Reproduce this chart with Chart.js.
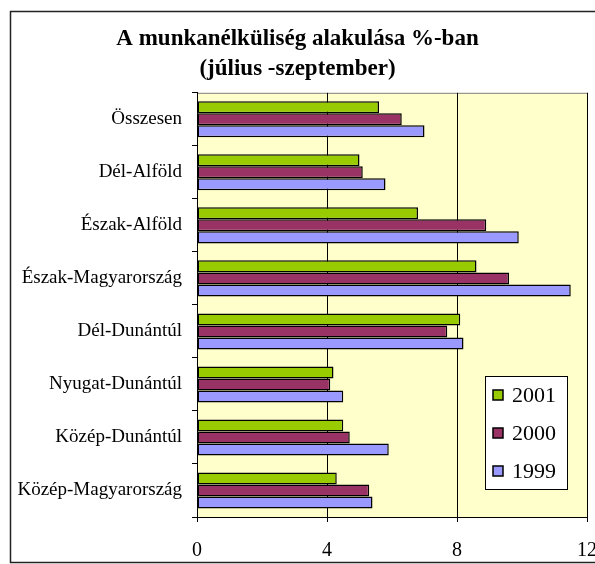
<!DOCTYPE html>
<html>
<head>
<meta charset="utf-8">
<script src="https://cdn.jsdelivr.net/npm/chart.js@4/dist/chart.umd.min.js"></script>
<style>
  html, body { margin: 0; padding: 0; background: #fff; overflow: hidden; }
  #wrap { width: 595px; height: 564px; overflow: hidden; }
</style>
</head>
<body>
<div id="wrap"><canvas id="c" width="620" height="564"></canvas></div>
<script>
// Munkanélküliség régiónként, július-szeptember, %
const regions = ['Összesen', 'Dél-Alföld', 'Észak-Alföld', 'Észak-Magyarország',
  'Dél-Dunántúl', 'Nyugat-Dunántúl', 'Közép-Dunántúl', 'Közép-Magyarország'];
const years = ['2001', '2000', '1999'];
const v2001 = [5.6, 5.0, 6.8, 8.6, 8.1, 4.2, 4.5, 4.3];
const v2000 = [6.3, 5.1, 8.9, 9.6, 7.7, 4.1, 4.7, 5.3];
const v1999 = [7.0, 5.8, 9.9, 11.5, 8.2, 4.5, 5.9, 5.4];
const xTicks = [0, 4, 8, 12];

const colors = ['#99CC00', '#993366', '#9999FF'];
const FONT = 'Liberation Serif, "Times New Roman", serif';

// háttér, keret, saját jelmagyarázat
const deco = {
  id: 'deco',
  beforeDraw(chart) {
    const { ctx, chartArea: a } = chart;
    ctx.save();
    ctx.fillStyle = '#FFFFCC';
    ctx.fillRect(a.left, a.top, a.right - a.left, a.bottom - a.top);
    ctx.strokeStyle = '#808080';
    ctx.lineWidth = 1;
    ctx.strokeRect(a.left + 0.5, a.top + 0.5, a.right - a.left, a.bottom - a.top);
    ctx.restore();
  },
  afterDraw(chart) {
    const { ctx } = chart;
    ctx.save();
    // külső keret
    ctx.strokeStyle = '#222';
    ctx.lineWidth = 1.5;
    ctx.strokeRect(10.5, 11.5, 700, 551);
    // legend
    const lx = 485, ly = 376, lw = 82, lh = 113;
    ctx.fillStyle = '#fff';
    ctx.fillRect(lx, ly, lw, lh);
    ctx.strokeStyle = '#000';
    ctx.lineWidth = 1;
    ctx.strokeRect(lx + 0.5, ly + 0.5, lw, lh);
    ctx.font = '22px ' + FONT;
    ctx.textBaseline = 'middle';
    chart.data.datasets.forEach((ds, i) => {
      const cy = ly + 19 + i * 38;
      ctx.fillStyle = ds.backgroundColor;
      ctx.fillRect(lx + 8, cy - 5, 10, 10);
      ctx.strokeStyle = '#000';
      ctx.lineWidth = 1.5;
      ctx.strokeRect(lx + 8, cy - 5, 10, 10);
      ctx.fillStyle = '#000';
      ctx.fillText(ds.label, lx + 27, cy + 1);
    });
    ctx.restore();
  }
};

new Chart(document.getElementById('c'), {
  type: 'bar',
  data: {
    labels: regions,
    datasets: [v2001, v2000, v1999].map((d, i) => ({
      label: years[i],
      data: d,
      backgroundColor: colors[i],
      borderColor: '#000',
      borderWidth: 1.5,
      borderSkipped: false,
      categoryPercentage: 0.68,
      barPercentage: 1,
    })),
  },
  options: {
    indexAxis: 'y',
    responsive: false,
    animation: false,
    layout: { padding: { left: 8, right: 33, top: 0, bottom: 0 } },
    plugins: {
      legend: { display: false },
      tooltip: { enabled: false },
      title: {
        display: true,
        text: ['A munkanélküliség alakulása %-ban', '(július -szeptember)'],
        color: '#000',
        font: { family: FONT, size: 23, weight: 'bold', lineHeight: 1.3 },
        padding: { top: 24, bottom: 9 },
      },
    },
    scales: {
      x: {
        min: 0, max: 12,
        afterBuildTicks(s) { s.ticks = xTicks.map(v => ({ value: v })); },
        afterFit(s) { s.height = 47; },
        grid: { color: '#000', lineWidth: 1, tickLength: 5 },
        border: { color: '#000' },
        ticks: { color: '#000', font: { family: FONT, size: 20 }, padding: 17 },
      },
      y: {
        afterFit(s) { s.width = 189; },
        grid: { drawOnChartArea: false, color: '#000', tickLength: 5 },
        border: { color: '#000' },
        ticks: { color: '#000', font: { family: FONT, size: 19 }, padding: 10 },
      },
    },
  },
  plugins: [deco],
});
</script>
</body>
</html>
